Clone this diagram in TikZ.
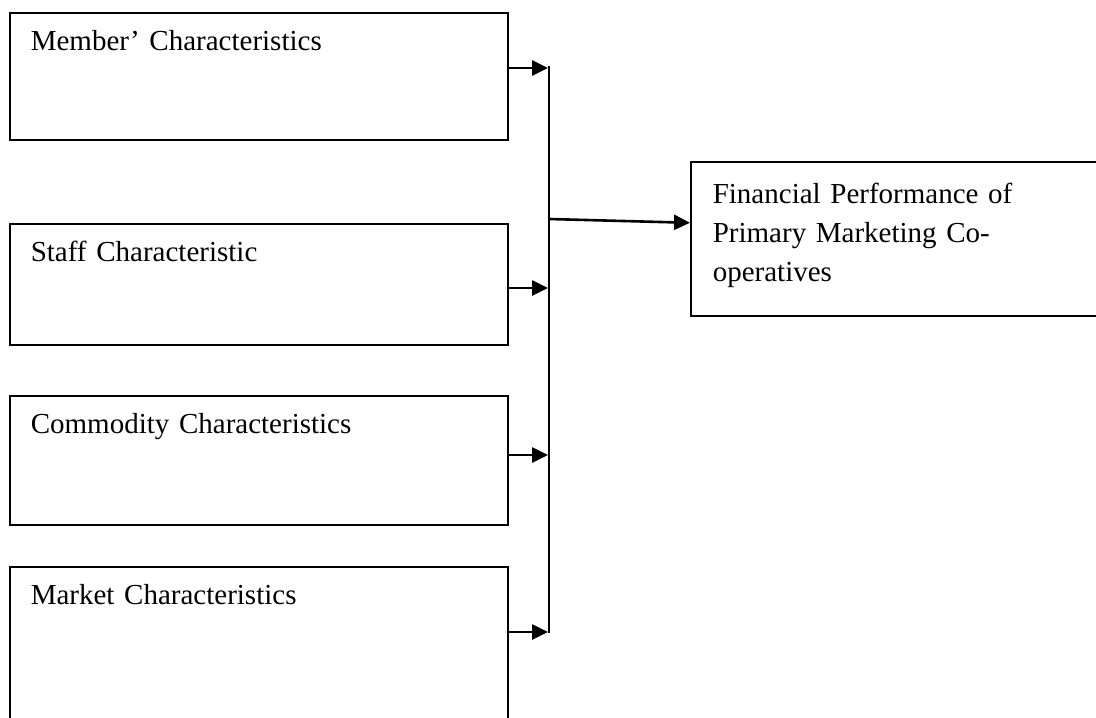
\documentclass[tikz,border=0pt]{standalone}
\usepackage{fontspec}
\setmainfont{Liberation Serif}
\usetikzlibrary{arrows.meta}

\begin{document}
\begin{tikzpicture}[x=0.5pt, y=-0.5pt,
   factor/.style={draw, line width=0.8pt, anchor=north west, inner xsep=10.5pt, inner ysep=0pt,
      text width=228pt, align=left, text height=19pt, font=\fontsize{14.5pt}{19.5pt}\selectfont},
   link/.style={line width=1.3pt, -{Triangle[length=8pt, width=7.5pt]}}]
\useasboundingbox (0,0) rectangle (1096,717);
\node[factor, text depth=44.5pt] (in1) at (9,12) {Member' Characteristics};
\node[factor, text depth=41.5pt] (in2) at (9,223) {Staff Characteristic};
\node[factor, text depth=45.5pt] (in3) at (9,395) {Commodity Characteristics};
\node[factor, text depth=58pt] (in4) at (9,566) {Market Characteristics};
\node[factor, text width=182pt, inner xsep=11pt, text height=21pt, text depth=56pt] (out) at (690,161)
   {\parbox[t]{182pt}{Financial Performance of\\Primary Marketing Co-\\operatives}};
\coordinate (t1) at (548,68);
\coordinate (t2) at (548,288);
\coordinate (t3) at (548,455);
\coordinate (t4) at (548,632);
\coordinate (j) at (549,219);
\draw[line width=1.2pt] (549,66) -- (549,633);
\draw[link] (in1.east |- t1) -- (t1);
\draw[link] (in2.east |- t2) -- (t2);
\draw[link] (in3.east |- t3) -- (t3);
\draw[link] (in4.east |- t4) -- (t4);
\draw[link] (j) -- ([yshift=8pt]out.west);
\end{tikzpicture}
\end{document}
